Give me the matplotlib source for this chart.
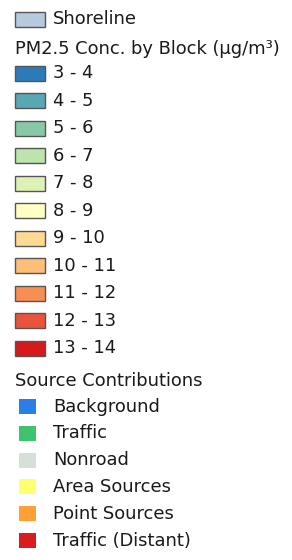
import matplotlib
matplotlib.use("Agg")
import matplotlib.pyplot as plt
from matplotlib.patches import Rectangle

# legend content
shore_label = "Shoreline"
shore_color = "#b7c9dd"

pm_title = "PM2.5 Conc. by Block (μg/m³)"
pm_labels = ["3 - 4", "4 - 5", "5 - 6", "6 - 7", "7 - 8", "8 - 9",
             "9 - 10", "10 - 11", "11 - 12", "12 - 13", "13 - 14"]
pm_colors = ["#2b7bba", "#5aa7b4", "#88c8a6", "#bce4ac", "#dcf1b4", "#ffffc4",
             "#fed993", "#fdbe78", "#f88e52", "#e8533a", "#d5191c"]

src_title = "Source Contributions"
src_labels = ["Background", "Traffic", "Nonroad", "Area Sources",
              "Point Sources", "Traffic (Distant)"]
src_colors = ["#2a7ee6", "#3cc46e", "#d5e0d6", "#ffff70", "#ff9f38", "#da1b1f"]

W, H = 292, 560
fig = plt.figure(figsize=(W / 100, H / 100), dpi=100)
ax = fig.add_axes([0, 0, 1, 1])
ax.set_xlim(0, W)
ax.set_ylim(H, 0)
ax.axis("off")

fs = 12.9
txt = dict(fontsize=fs, color="#1a1a1a", va="center", family="DejaVu Sans")
edge = "#555555"

# shoreline
ax.add_patch(Rectangle((14.5, 12), 30, 14.5, facecolor=shore_color,
                       edgecolor=edge, lw=1))
ax.text(53, 19, shore_label, **txt)

# PM2.5 classes
ax.text(15, 49, pm_title, **txt)
y0, step = 73.2, 27.5
for i, (lab, col) in enumerate(zip(pm_labels, pm_colors)):
    y = y0 + i * step
    ax.add_patch(Rectangle((14.5, y - 7.5), 30, 15, facecolor=col,
                           edgecolor=edge, lw=1))
    ax.text(53, y, lab, **txt)

# source contributions
ax.text(15, 381, src_title, **txt)
y0, step = 406.5, 26.8
for i, (lab, col) in enumerate(zip(src_labels, src_colors)):
    y = y0 + i * step
    ax.add_patch(Rectangle((19, y - 7.5), 16.5, 15, facecolor=col,
                           edgecolor="none"))
    ax.text(53, y, lab, **txt)

fig.savefig("out.png", dpi=100)
